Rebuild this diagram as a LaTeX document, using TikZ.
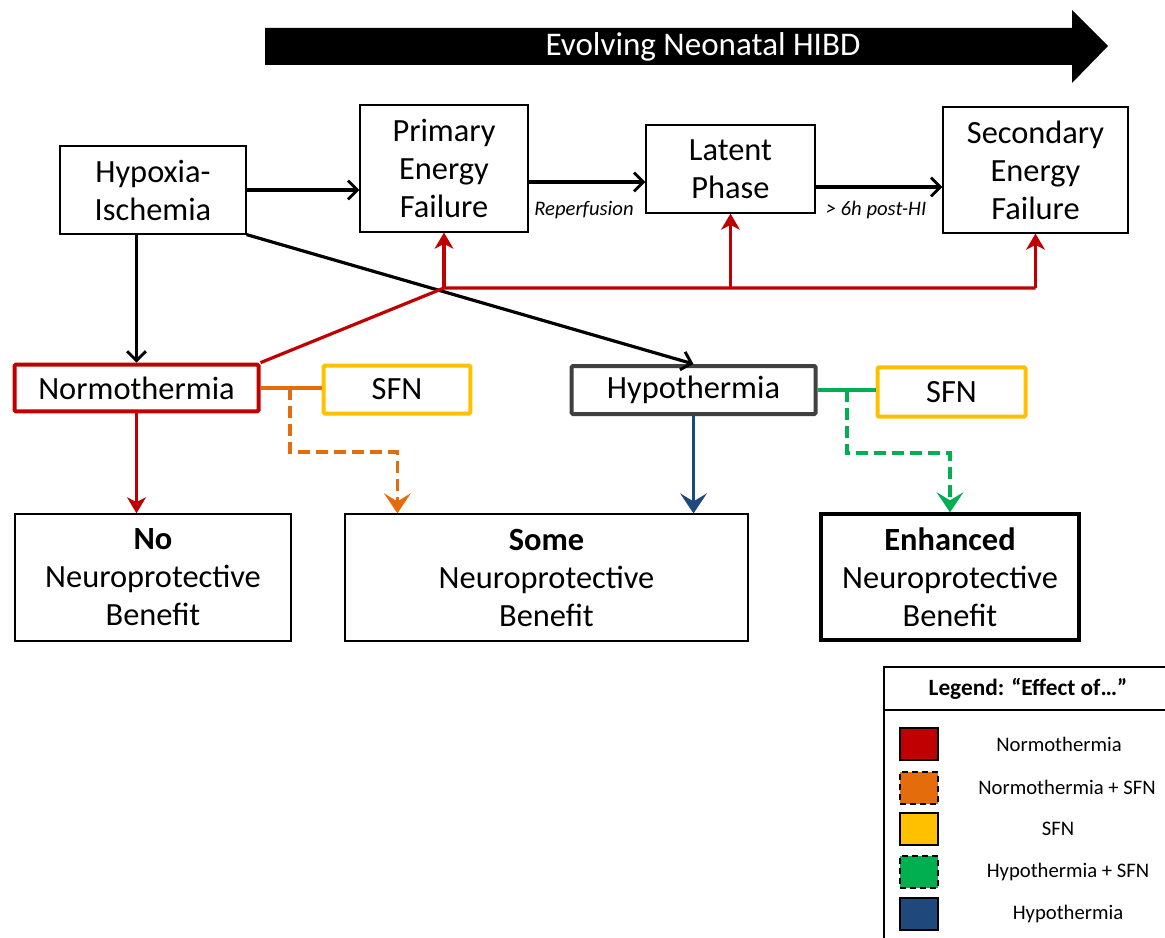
\documentclass[tikz,border=0pt]{standalone}
\usepackage{fontspec}
\setmainfont{Carlito}
\usepackage{tikz}
\usetikzlibrary{arrows.meta}

\definecolor{nred}{HTML}{C00000}
\definecolor{norange}{HTML}{E46C0A}
\definecolor{nyellow}{HTML}{FFC000}
\definecolor{ngreen}{HTML}{00B050}
\definecolor{nblue}{HTML}{1F497D}
\definecolor{ngray}{HTML}{404040}

\begin{document}
\begin{tikzpicture}[x=0.75pt,y=-0.75pt,
  every node/.append style={font=\fontsize{24.3}{28.5}\selectfont, align=center, inner sep=0pt, text=black},
  box/.style={draw, line width=0.9pt, fill=white},
  normobox/.style={draw=nred, line width=3pt, fill=white, rounded corners=1pt},
  hypobox/.style={draw=ngray, line width=3pt, fill=white, rounded corners=1pt},
  sfnbox/.style={draw=nyellow, line width=3pt, fill=white, rounded corners=1pt},
  bigbox/.style={draw, line width=3pt, fill=white},
  steplabel/.style={font=\fontsize{15.5}{18}\selectfont\itshape},
  arr/.style={draw, line width=2.4pt, -{Straight Barb[length=7pt,width=14pt,line width=2.2pt]}},
  redline/.style={draw=nred, line width=2.4pt},
  redarr/.style={draw=nred, line width=2.4pt, -{Stealth[length=12pt,width=14pt,inset=3.5pt]}},
  bluearr/.style={draw=nblue, line width=2.8pt, -{Stealth[length=15pt,width=20pt,inset=6pt]}},
  sfnlink/.style={line width=2.8pt},
  sfnarr/.style={line width=2.8pt, dash pattern=on 9pt off 4.5pt, -{Stealth[length=15pt,width=20pt,inset=6pt]}},
  swatch/.style={draw, line width=1.5pt, minimum width=28.5pt, minimum height=24pt},
  legtext/.style={font=\fontsize{15.5}{18}\selectfont}]
\useasboundingbox (0,0) rectangle (1165,938);

\fill (265,28) -- (1072,28) -- (1072,10) -- (1108,46) -- (1072,83) -- (1072,65) -- (265,65) -- cycle;
\node[text=white, font=\fontsize{24.8}{28.5}\selectfont] (banner) at (703,47) {Evolving Neonatal HIBD};

\node[box, minimum width=139.5pt, minimum height=66pt] (hi) at (153,190) {Hypoxia-\\Ischemia};
\node[box, minimum width=126pt, minimum height=95.25pt] (pef) at (444,168.5) {Primary\\Energy\\Failure};
\node[box, minimum width=126.75pt, minimum height=66pt] (lat) at (730.5,169) {Latent\\Phase};
\node[box, minimum width=138.75pt, minimum height=94.5pt] (sef) at (1035.5,170) {Secondary\\Energy\\Failure};

\node[normobox, minimum width=183pt, minimum height=35pt] (normo) at (136.5,388) {Normothermia};
\node[sfnbox, minimum width=110pt, minimum height=36pt] (sfnA) at (397,389.5) {SFN};
\node[hypobox, minimum width=183pt, minimum height=36pt] (hypo) at (693.5,390) {Hypothermia};
\node[sfnbox, minimum width=111pt, minimum height=37pt] (sfnB) at (951.5,392) {SFN};

\node[box, minimum width=207pt, minimum height=95.25pt] (nob) at (153,577.5) {\textbf{No}\\Neuroprotective\\Benefit};
\node[box, minimum width=302.25pt, minimum height=95.25pt] (some) at (546.5,577.5) {\textbf{Some}\\Neuroprotective\\Benefit};
\node[bigbox, minimum width=193pt, minimum height=94pt] (enh) at (950,577) {\textbf{Enhanced}\\Neuroprotective\\Benefit};

\draw[arr] (hi.east |- 0,190) -- (pef.west |- 0,190);
\draw[arr] (pef.east |- 0,182) -- (lat.west |- 0,182);
\draw[arr] (lat.east |- 0,187) -- (sef.west |- 0,187);
\node[steplabel] (rep) at (584,210) {Reperfusion};
\node[steplabel] (post) at (876,210) {> 6h post-HI};

\draw[arr] (hi.south -| normo.north) -- (normo.north);
\draw[arr] (hi.south east) -- (hypo.north);

\coordinate (rj) at (444,288);
\draw[redline] (normo.north east) -- (rj) -- (sef.south |- rj);
\draw[redarr] (rj) -- (pef.south);
\draw[redarr] (lat.south |- rj) -- (lat.south);
\draw[redarr] (sef.south |- rj) -- (sef.south);
\draw[redarr] (normo.south) -- (normo.south |- nob.north);

\coordinate (oj) at (290,388);
\draw[sfnlink, norange] (normo.east) -- (sfnA.west |- normo.east);
\draw[sfnarr, norange] (oj) -- ++(0,64) -| ([xshift=39.75pt]some.north west);

\draw[bluearr] (hypo.south) -- (hypo.south |- some.north);

\coordinate (gj) at (847,390);
\draw[sfnlink, ngreen] (hypo.east |- gj) -- (sfnB.west |- gj);
\draw[sfnarr, ngreen] (gj) -- ++(0,63) -| (enh.north);

\draw[line width=1pt] (884,938) -- (884,667) -- (1166,667);
\draw[line width=1pt] (884,710) -- (1166,710);
\node[font=\fontsize{17.5}{20}\selectfont\bfseries] (legtitle) at (1028,689) {Legend: “Effect of…”};
\node[swatch, fill=nred] (swA) at (919,744) {};
\node[swatch, fill=norange, dash pattern=on 4.5pt off 3pt] (swB) at (919,787.5) {};
\node[swatch, fill=nyellow] (swC) at (919,829) {};
\node[swatch, fill=ngreen, dash pattern=on 4.5pt off 3pt] (swD) at (919,872) {};
\node[swatch, fill=nblue] (swE) at (919,913.5) {};
\node[legtext] (ltA) at (1059,744) {Normothermia};
\node[legtext] (ltB) at (1067,787.5) {Normothermia + SFN};
\node[legtext] (ltC) at (1058,829) {SFN};
\node[legtext] (ltD) at (1068,872) {Hypothermia + SFN};
\node[legtext] (ltE) at (1068,913.5) {Hypothermia};
\end{tikzpicture}
\end{document}
